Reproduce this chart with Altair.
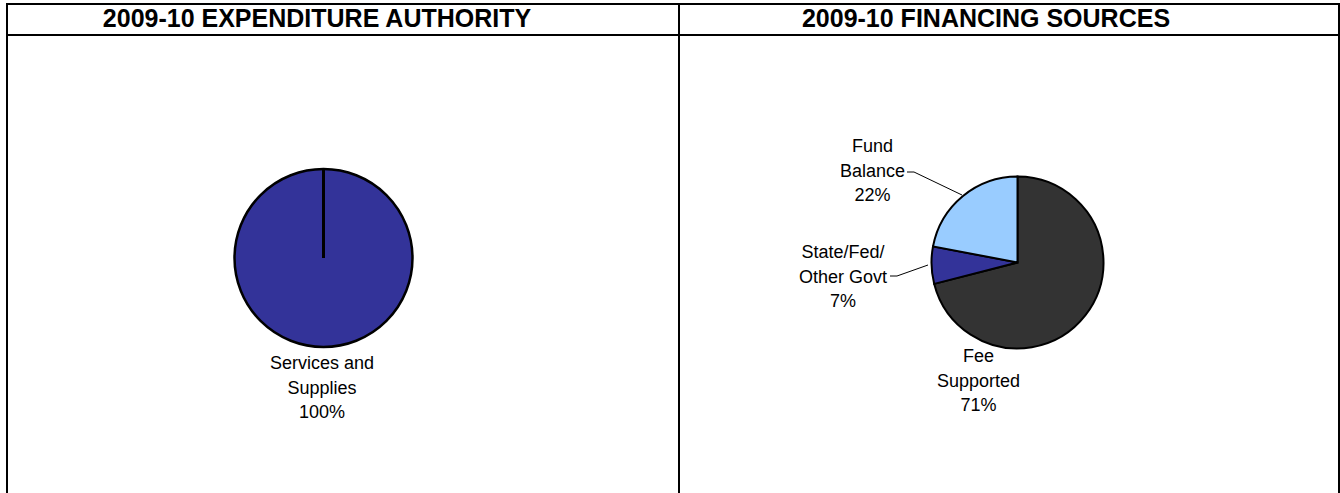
import altair as alt
import pandas as pd

# ---------------- data ----------------
exp_title = "2009-10 EXPENDITURE AUTHORITY"
exp_categories = ["Services and\nSupplies"]
exp_values = [100]

fin_title = "2009-10 FINANCING SOURCES"
fin_categories = ["Fee\nSupported", "State/Fed/\nOther Govt", "Fund\nBalance"]
fin_values = [71, 7, 22]

# ---------------- styles / layout ----------------
exp_colors = ["#333399"]
fin_colors = ["#333333", "#333399", "#99CCFF"]
FONT = "Liberation Sans"
W, H = 1340, 493

exp_center = (323.5, 258)
exp_radius = 89
fin_center = (1017.5, 262.5)
fin_radius = 86

# label anchors (centre x, first baseline y)
exp_label_pos = [(322, 369)]
fin_label_pos = [(978.5, 362), (843, 258), (872.5, 152)]
LINE_H = 24.5

# leader lines (label -> slice)
leaders = {
    "Fund\nBalance": [(907, 172), (914, 172), (962, 195)],
    "State/Fed/\nOther Govt": [(890, 276), (897, 276), (928, 265)],
}

# ---------------- tables ----------------
exp_df = pd.DataFrame({
    "category": exp_categories, "value": exp_values,
    "color": exp_colors, "idx": range(len(exp_values)),
})
fin_df = pd.DataFrame({
    "category": fin_categories, "value": fin_values,
    "color": fin_colors, "idx": range(len(fin_values)),
})

def label_rows(df, pos):
    rows = []
    for (c, v), (x, y) in zip(zip(df["category"], df["value"]), pos):
        rows.append({"label": c + "\n" + f"{v}%", "x": x, "y": y})
    return rows

labels_df = pd.DataFrame(label_rows(exp_df, exp_label_pos) + label_rows(fin_df, fin_label_pos))

leader_rows = []
for k, pts in leaders.items():
    for i, (x, y) in enumerate(pts):
        leader_rows.append({"key": k, "o": i, "x": x, "y": y})
leader_df = pd.DataFrame(leader_rows)

frame_df = pd.DataFrame([
    {"x": 6, "x2": 1340, "y": 4, "y2": 4},
    {"x": 6, "x2": 1340, "y": 35, "y2": 35},
    {"x": 7, "x2": 7, "y": 3, "y2": H},
    {"x": 679, "x2": 679, "y": 3, "y2": H},
    {"x": 1339, "x2": 1339, "y": 3, "y2": H},
])

titles_df = pd.DataFrame([
    {"t": exp_title, "x": 317, "y": 27},
    {"t": fin_title, "x": 986, "y": 27},
])

# ---------------- marks ----------------
exp_pie = alt.Chart(exp_df).mark_arc(
    outerRadius=exp_radius, stroke="black", strokeWidth=2.5
).encode(
    theta=alt.Theta("value:Q", stack=True),
    color=alt.Color("color:N", scale=None),
    order=alt.Order("idx:Q"),
    x=alt.value(exp_center[0]),
    y=alt.value(exp_center[1]),
)

# slice boundary of the single 100% slice (12 o'clock radius)
exp_boundary = alt.Chart(exp_df).mark_rule(color="black", strokeWidth=3).encode(
    x=alt.value(exp_center[0]),
    y=alt.value(exp_center[1] - exp_radius),
    y2=alt.value(exp_center[1]),
)

fin_pie = alt.Chart(fin_df).mark_arc(
    outerRadius=fin_radius, stroke="black", strokeWidth=2
).encode(
    theta=alt.Theta("value:Q", stack=True),
    color=alt.Color("color:N", scale=None),
    order=alt.Order("idx:Q"),
    x=alt.value(fin_center[0]),
    y=alt.value(fin_center[1]),
)

labels = alt.Chart(labels_df).mark_text(
    font=FONT, fontSize=18, color="black", align="center",
    baseline="alphabetic", lineBreak="\n", lineHeight=LINE_H,
).encode(
    x=alt.X("x:Q", scale=None, axis=None),
    y=alt.Y("y:Q", scale=None, axis=None),
    text="label:N",
)

leader_lines = alt.Chart(leader_df).mark_line(color="black", strokeWidth=1).encode(
    x=alt.X("x:Q", scale=None, axis=None),
    y=alt.Y("y:Q", scale=None, axis=None),
    detail="key:N",
    order="o:Q",
)

frame = alt.Chart(frame_df).mark_rule(color="black", strokeWidth=2).encode(
    x=alt.X("x:Q", scale=None, axis=None),
    x2="x2:Q",
    y=alt.Y("y:Q", scale=None, axis=None),
    y2="y2:Q",
)

titles = alt.Chart(titles_df).mark_text(
    font=FONT, fontSize=25, fontWeight="bold", color="black",
    align="center", baseline="alphabetic",
).encode(
    x=alt.X("x:Q", scale=None, axis=None),
    y=alt.Y("y:Q", scale=None, axis=None),
    text="t:N",
)

chart = alt.layer(
    exp_pie, exp_boundary, fin_pie, leader_lines, labels, frame, titles
).resolve_scale(
    theta="independent"
).properties(
    width=W, height=H, autosize="none", padding=0, background="white"
).configure_view(stroke=None)

chart.save("out.html", embed_options={"renderer": "svg", "actions": False})
